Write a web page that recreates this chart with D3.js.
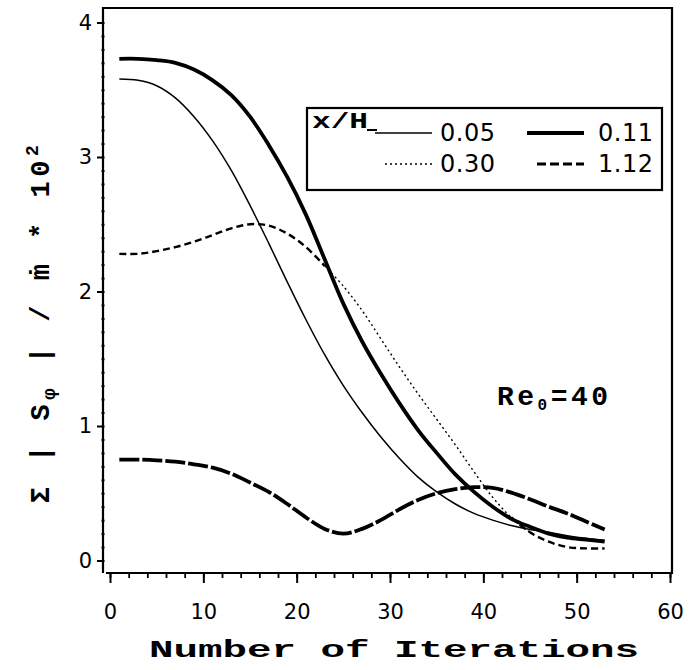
<!DOCTYPE html>
<html>
<head>
<meta charset="utf-8">
<script src="https://cdn.jsdelivr.net/npm/d3@7"></script>
<style>
  body { margin: 0; background: #fff; }
  svg text { fill: #000; }
</style>
</head>
<body>
<svg id="chart" width="689" height="670"></svg>
<script>
// Iteration numbers at which each series is sampled
const iterations = [1, 3, 5, 7, 9, 11, 13, 15, 17, 19, 21, 23, 25, 27, 29, 31, 33, 35, 37, 39, 41, 43, 45, 47, 49, 51, 53];

// Σ|Sφ|/ṁ × 10² for each x/H station
const s005 = [3.58, 3.57, 3.53, 3.44, 3.30, 3.12, 2.90, 2.64, 2.36, 2.07, 1.79, 1.53, 1.30, 1.10, 0.92, 0.76, 0.62, 0.51, 0.42, 0.35, 0.30, 0.26, 0.23, 0.21, 0.185, 0.165, 0.15];
const s011 = [3.73, 3.73, 3.72, 3.70, 3.65, 3.57, 3.46, 3.30, 3.09, 2.85, 2.57, 2.24, 1.91, 1.63, 1.39, 1.17, 0.97, 0.80, 0.64, 0.51, 0.40, 0.31, 0.25, 0.20, 0.17, 0.155, 0.14];
const s030 = [2.28, 2.28, 2.30, 2.33, 2.37, 2.42, 2.47, 2.50, 2.49, 2.43, 2.33, 2.19, 2.04, 1.86, 1.65, 1.44, 1.24, 1.05, 0.86, 0.66, 0.47, 0.32, 0.21, 0.14, 0.10, 0.09, 0.09];
const s112 = [0.75, 0.75, 0.745, 0.735, 0.715, 0.69, 0.645, 0.58, 0.51, 0.42, 0.32, 0.235, 0.20, 0.235, 0.30, 0.38, 0.45, 0.50, 0.53, 0.545, 0.54, 0.505, 0.455, 0.40, 0.35, 0.29, 0.23];

const seriesLabels = ["0.05", "0.11", "0.30", "1.12"];
const xTickValues = [0, 10, 20, 30, 40, 50, 60];
const yTickValues = [0, 1, 2, 3, 4];

const svg = d3.select("#chart");

const x = d3.scaleLinear().domain([0, 60]).range([110, 670]);
const y = d3.scaleLinear().domain([0, 4]).range([560.5, 22.5]);

const frame = { left: 103, right: 672, top: 8, bottom: 573 };
const ink = "#000";

// Plot frame
svg.append("path")
  .attr("d", `M${frame.left},${frame.bottom} V${frame.top} H${frame.right} V${frame.bottom} H${frame.left + 3}`)
  .attr("fill", "none").attr("stroke", ink).attr("stroke-width", 2.2);

// Bottom axis: minor ticks every 2 iterations, major ticks every 10
const xMinor = d3.axisBottom(x).tickValues(d3.range(0, 61, 2)).tickSize(5).tickFormat("");
const gxMinor = svg.append("g").attr("transform", `translate(0,${frame.bottom})`).call(xMinor);
gxMinor.select(".domain").remove();
gxMinor.selectAll("line").attr("stroke", ink).attr("stroke-width", 1.8);

const xMajor = d3.axisBottom(x).tickValues(xTickValues).tickSize(10).tickPadding(21).tickFormat(d3.format("d"));
const gxMajor = svg.append("g").attr("transform", `translate(0,${frame.bottom})`).call(xMajor);
gxMajor.select(".domain").remove();
gxMajor.selectAll("line").attr("stroke", ink).attr("stroke-width", 2);
gxMajor.selectAll("text")
  .attr("font-family", "'DejaVu Sans', sans-serif").attr("font-size", 21).attr("fill", ink);

// Left axis: minor ticks every 0.1, major ticks at integers
const yMinor = d3.axisLeft(y).tickValues(d3.range(0, 41).map(i => i / 10)).tickSize(3).tickFormat("");
const gyMinor = svg.append("g").attr("transform", `translate(${frame.left + 1.5},0)`).call(yMinor);
gyMinor.select(".domain").remove();
gyMinor.selectAll("line").attr("stroke", ink).attr("stroke-width", 2);

const yMajor = d3.axisLeft(y).tickValues(yTickValues).tickSize(6).tickPadding(5).tickFormat(d3.format("d"));
const gyMajor = svg.append("g").attr("transform", `translate(${frame.left},0)`).call(yMajor);
gyMajor.select(".domain").remove();
gyMajor.selectAll("line").attr("stroke", ink).attr("stroke-width", 2);
gyMajor.selectAll("text")
  .attr("font-family", "'DejaVu Sans', sans-serif").attr("font-size", 21).attr("fill", ink);

// Curves
const line = d3.line()
  .x(d => x(d[0]))
  .y(d => y(d[1]))
  .curve(d3.curveCatmullRom.alpha(0.5));

const pts = vals => iterations.map((it, i) => [it, vals[i]]);

const styles = {
  thin:   { width: 1.5, dash: null },
  thick:  { width: 3.8, dash: null },
  dotted: { width: 1.4, dash: "2,3" },
  dashed: { width: 2.4, dash: "7,4" },
  heavyDash: { width: 3.8, dash: "20,3" }
};

function drawCurve(data, style) {
  svg.append("path")
    .attr("d", line(data))
    .attr("fill", "none")
    .attr("stroke", ink)
    .attr("stroke-width", style.width)
    .attr("stroke-dasharray", style.dash)
    .attr("stroke-linecap", "butt")
    .attr("stroke-linejoin", "round");
}

drawCurve(pts(s005), styles.thin);
drawCurve(pts(s011), styles.thick);

// x/H = 0.30: dashed over the early iterations, dotted through the fall, dashed at the tail
const p030 = pts(s030);
drawCurve(p030.filter(d => d[0] <= 23), styles.dashed);
drawCurve(p030.filter(d => d[0] >= 21 && d[0] <= 45).slice(1), styles.dotted);
drawCurve(p030.filter(d => d[0] >= 43), styles.dashed);

drawCurve(pts(s112), styles.heavyDash);

// Legend
const lg = svg.append("g");
const box = { x: 307, y: 108, w: 355, h: 82 };
lg.append("rect")
  .attr("x", box.x).attr("y", box.y).attr("width", box.w).attr("height", box.h)
  .attr("fill", "#fff").attr("stroke", ink).attr("stroke-width", 2.2);

lg.append("text")
  .attr("x", box.x + 5).attr("y", box.y + 20)
  .attr("font-family", "'Liberation Mono', monospace").attr("font-weight", "bold")
  .attr("font-size", 22).attr("textLength", 56).attr("lengthAdjust", "spacingAndGlyphs")
  .text("x/H");
lg.append("line")
  .attr("x1", box.x + 60).attr("x2", box.x + 70).attr("y1", box.y + 22).attr("y2", box.y + 22)
  .attr("stroke", ink).attr("stroke-width", 2);

const legendItems = [
  { label: seriesLabels[0], style: styles.thin,      col: 0, row: 0 },
  { label: seriesLabels[1], style: styles.thick,     col: 1, row: 0 },
  { label: seriesLabels[2], style: styles.dotted,    col: 0, row: 1 },
  { label: seriesLabels[3], style: { width: 3.2, dash: "9,4" }, col: 1, row: 1 }
];
legendItems.forEach(it => {
  const x0 = box.x + 68 + it.col * 152 + (it.row === 1 ? 10 : 0);
  const yy = box.y + 25 + it.row * 31;
  lg.append("line")
    .attr("x1", x0).attr("x2", box.x + 125 + it.col * 152).attr("y1", yy).attr("y2", yy)
    .attr("stroke", ink).attr("stroke-width", it.style.width)
    .attr("stroke-dasharray", it.style.dash);
  lg.append("text")
    .attr("x", box.x + 133 + it.col * 158).attr("y", yy + 8)
    .attr("font-family", "'DejaVu Sans', sans-serif").attr("font-size", 24)
    .attr("letter-spacing", 0.5)
    .text(it.label);
});

// Reynolds-number annotation
const re = svg.append("text")
  .attr("x", 497).attr("y", 405)
  .attr("font-family", "'Liberation Mono', monospace").attr("font-weight", "bold")
  .attr("font-size", 28).attr("letter-spacing", 3.5);
re.append("tspan").text("Re");
re.append("tspan").attr("font-size", 16).attr("dy", 5).text("0");
re.append("tspan").attr("dy", -5).text("=40");

// Axis titles
svg.append("text")
  .attr("x", 394).attr("y", 657)
  .attr("text-anchor", "middle")
  .attr("font-family", "'Liberation Mono', monospace").attr("font-weight", "bold")
  .attr("font-size", 24).attr("textLength", 490).attr("lengthAdjust", "spacingAndGlyphs")
  .text("Number of Iterations");

const yt = svg.append("text")
  .attr("transform", "translate(49,322) rotate(-90)")
  .attr("text-anchor", "middle")
  .attr("font-family", "'Liberation Mono', 'DejaVu Sans Mono', monospace").attr("font-weight", "bold")
  .attr("font-size", 27).attr("letter-spacing", 4.5);
yt.append("tspan").text("Σ | S");
yt.append("tspan").attr("font-size", 19).attr("dy", 6).text("φ");
yt.append("tspan").attr("dy", -6).text(" | / ṁ * 10");
yt.append("tspan").attr("font-size", 18).attr("dy", -11).text("2");
</script>
</body>
</html>
